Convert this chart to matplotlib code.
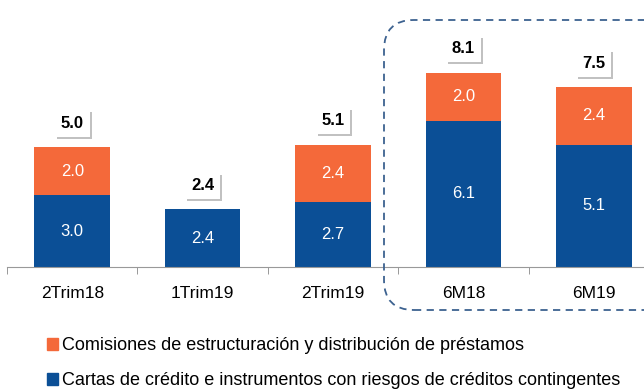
import matplotlib.pyplot as plt
import matplotlib.patheffects as pe
from matplotlib.patches import FancyBboxPatch, Patch

plt.rcParams['font.family'] = ['Liberation Sans', 'DejaVu Sans']

categories = ['2Trim18', '1Trim19', '2Trim19', '6M18', '6M19']
cartas = [3.0, 2.4, 2.7, 6.1, 5.1]
comisiones = [2.0, None, 2.4, 2.0, 2.4]
totals = [5.0, 2.4, 5.1, 8.1, 7.5]

label_cartas = 'Cartas de crédito e instrumentos con riesgos de créditos contingentes'
label_comisiones = 'Comisiones de estructuración y distribución de préstamos'

blue = '#0B4F96'
orange = '#F4693A'

fig = plt.figure(figsize=(6.44, 3.89), dpi=100)
ax = fig.add_axes([7 / 644, 122 / 389, 652 / 644, 240 / 389])

x = list(range(len(categories)))
width = 0.58
com_vals = [v if v is not None else 0 for v in comisiones]

ax.bar(x, cartas, width=width, color=blue)
ax.bar(x, com_vals, width=width, bottom=cartas, color=orange)

# values inside the segments
for i in x:
    ax.text(i, cartas[i] / 2, f'{cartas[i]:.1f}', ha='center', va='center',
            color='white', fontsize=12)
    if comisiones[i] is not None:
        ax.text(i, cartas[i] + comisiones[i] / 2, f'{comisiones[i]:.1f}',
                ha='center', va='center', color='white', fontsize=12)

# totals in small boxes with a drop shadow
for i in x:
    t = ax.annotate(f'{totals[i]:.1f}', (i, totals[i]), xytext=(0, 17),
                    textcoords='offset points', ha='center', va='center',
                    fontsize=12, fontweight='bold', color='black',
                    bbox=dict(boxstyle='square,pad=0.35', fc='white', ec='none'))
    t.get_bbox_patch().set_path_effects([
        pe.withSimplePatchShadow(offset=(1.5, -1.5), shadow_rgbFace='#999999', alpha=0.6),
        pe.Normal()])

ax.set_xlim(-0.5, 4.5)
ax.set_ylim(0, 10)
ax.set_xticks(x)
ax.set_xticklabels(categories, fontsize=12.5)
ax.set_xticks([i + 0.5 for i in range(-1, 5)], minor=True)
ax.tick_params(axis='x', which='major', length=0, pad=14)
ax.tick_params(axis='x', which='minor', length=5, color='#888888')
ax.set_yticks([])
for s in ['top', 'right', 'left']:
    ax.spines[s].set_visible(False)
ax.spines['bottom'].set_color('#999999')

# dashed frame around the half-year bars
frame = FancyBboxPatch((414, 109), 240, 230, boxstyle='round,pad=30,rounding_size=30',
                       transform=None, fill=False, ec='#3D6290', lw=1.3,
                       linestyle=(0, (4, 3)), clip_on=False)
fig.patches.append(frame)

handles = [Patch(color=orange, label=label_comisiones),
           Patch(color=blue, label=label_cartas)]
fig.legend(handles=handles, loc='upper left', bbox_to_anchor=(40 / 644, 1 - 330 / 389),
           frameon=False, fontsize=13, handlelength=0.6, handleheight=0.6,
           handletextpad=0.2, labelspacing=1.0, borderaxespad=0)

fig.savefig('out.png', dpi=100)
